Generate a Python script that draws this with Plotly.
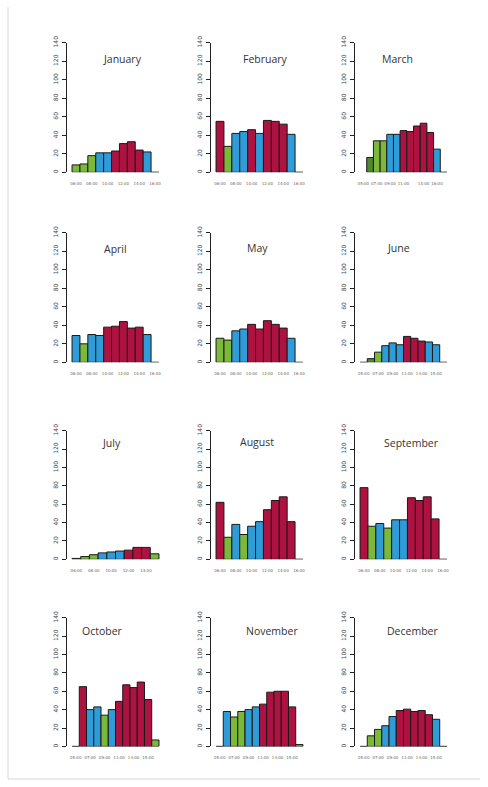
import plotly.graph_objects as go

months = ["January", "February", "March", "April", "May", "June",
          "July", "August", "September", "October", "November", "December"]

jan = [8, 9, 18, 21, 21, 23, 31, 33, 24, 22, 0]
feb = [55, 28, 42, 44, 46, 42, 56, 55, 52, 41, 0]
mar = [None, 16, 34, 34, 41, 41, 45, 44, 50, 53, 43, 25, 0]
apr = [29, 20, 30, 29, 38, 39, 44, 37, 38, 30, 0]
may = [26, 24, 34, 36, 41, 36, 45, 41, 37, 26, 0]
jun = [0, 4, 11, 18, 21, 19, 28, 26, 23, 22, 19, 0]
jul = [1, 3, 5, 7, 8, 9, 10, 13, 13, 6]
aug = [62, 24, 38, 27, 36, 41, 54, 64, 68, 41, 0]
sep = [78, 36, 39, 34, 43, 43, 67, 64, 68, 44, 0]
octo = [0, 65, 40, 43, 34, 40, 49, 67, 64, 70, 51, 7]
nov = [0, 38, 32, 38, 40, 43, 46, 59, 60, 60, 43, 2]
dec = [0, 11.5, 18.5, 22.5, 32.5, 39, 40.5, 38, 39, 34.5, 29.5, 0]
values = [jan, feb, mar, apr, may, jun, jul, aug, sep, octo, nov, dec]

# bar category: g = green, d = dark green, b = blue, r = red
jan_c = list("gggbbrrrrbb")
feb_c = list("rgbbrbrrrbb")
mar_c = list("gdggbbrrrrrbb")
apr_c = list("bgbbrrrrrbb")
may_c = list("ggbbrrrrrbb")
jun_c = list("bdgbbbrrrbbb")
jul_c = list("dggbbbrrrg")
aug_c = list("rgbgbbrrrrb")
sep_c = list("rgbgbbrrrrb")
oct_c = list("brbbgbrrrrrg")
nov_c = list("bbggbbrrrrrg")
dec_c = list("gggbbrrrrrbb")
cats = [jan_c, feb_c, mar_c, apr_c, may_c, jun_c, jul_c, aug_c, sep_c, oct_c, nov_c, dec_c]

hours11 = ["06:00", "07:00", "08:00", "09:00", "10:00", "11:00", "12:00", "13:00", "14:00", "15:00", "16:00"]
hours12 = ["05:00", "06:00", "07:00", "08:00", "09:00", "10:00", "11:00", "12:00", "13:00", "14:00", "15:00", "16:00"]
hours13 = ["05:00", "06:00", "07:00", "08:00", "09:00", "10:00", "11:00", "12:00", "13:00", "14:00", "15:00", "16:00", "17:00"]
hours10 = ["06:00", "07:00", "08:00", "09:00", "10:00", "11:00", "12:00", "13:00", "14:00", "15:00"]
month_hours = [hours11, hours11, hours13, hours11, hours11, hours12,
               hours10, hours11, hours11, hours12, hours12, hours12]
y_ticks = [0, 20, 40, 60, 80, 100, 120, 140]

palette = {"g": "#7cb93a", "d": "#4f8a2c", "b": "#2f9cd8", "r": "#ad1240"}

W, H = 488, 787
col_left = [67, 211, 355]
col_right = [164, 308, 452]
row_zero = [167, 359, 558, 747]
row_top = [36, 228, 428, 617]
title_pos = [(122, 53), (265, 53), (397, 53),
             (115, 244), (257, 243), (398, 243),
             (111, 440), (257, 439), (411, 440),
             (102, 630), (272, 630), (412, 630)]

fig = go.Figure()
layout = dict(width=W, height=H, margin=dict(l=0, r=0, t=0, b=0),
              paper_bgcolor="white", plot_bgcolor="white", showlegend=False)
annotations = []

for i, m in enumerate(months):
    r, c = divmod(i, 3)
    vals = values[i]
    n = len(vals)
    hrs = month_hours[i]
    xs = list(range(n))
    ax = "" if i == 0 else str(i + 1)
    fig.add_trace(go.Bar(
        x=xs, y=vals, width=1.0,
        marker=dict(color=[palette[k] for k in cats[i]],
                    line=dict(color="#1a1a1a", width=1)),
        xaxis="x" + ax, yaxis="y" + ax, cliponaxis=False,
        hovertemplate=m + " %{customdata}: %{y}<extra></extra>",
        customdata=hrs,
    ))
    pad = 0.058 * n
    tv = xs[::2][:6] if n != 13 else [0, 2, 4, 6, 9, 11]
    layout["xaxis" + ax] = dict(
        domain=[col_left[c] / W, col_right[c] / W],
        range=[-0.5 - pad, n - 0.5 + pad],
        anchor="y" + ax, showgrid=False, zeroline=False, showline=False,
        tickvals=tv, ticktext=[hrs[k] for k in tv], ticks="", tickangle=0,
        tickfont=dict(size=4, color="#666666", family="DejaVu Sans"),
        ticklabelstandoff=8, fixedrange=True,
    )
    layout["yaxis" + ax] = dict(
        domain=[1 - row_zero[r] / H, 1 - row_top[r] / H],
        range=[0, 140], anchor="x" + ax,
        showgrid=False, zeroline=False, showline=True,
        linecolor="#222222", linewidth=1,
        tickvals=y_ticks, ticks="outside", ticklen=4, tickcolor="#222222",
        tickangle=-90, tickfont=dict(size=6, color="#444444", family="DejaVu Sans"),
        ticklabelstandoff=2, fixedrange=True,
    )
    tx, ty = title_pos[i]
    annotations.append(dict(
        text=m, x=tx / W, y=1 - ty / H, xref="paper", yref="paper",
        showarrow=False, xanchor="center", yanchor="middle",
        font=dict(size=10.5, color="#333333", family="Open Sans"),
    ))

layout["annotations"] = annotations
layout["shapes"] = [
    dict(type="line", xref="paper", yref="paper", x0=8 / W, x1=8 / W, y0=1 - 780 / H, y1=1,
         line=dict(color="#d8d8d8", width=1)),
    dict(type="line", xref="paper", yref="paper", x0=8 / W, x1=480 / W, y0=1 - 780 / H, y1=1 - 780 / H,
         line=dict(color="#d8d8d8", width=1)),
]
fig.update_layout(**layout)
fig.write_html("out.html", config={"displayModeBar": False},
               post_script="document.body.style.margin='0';document.body.style.overflow='hidden';")
